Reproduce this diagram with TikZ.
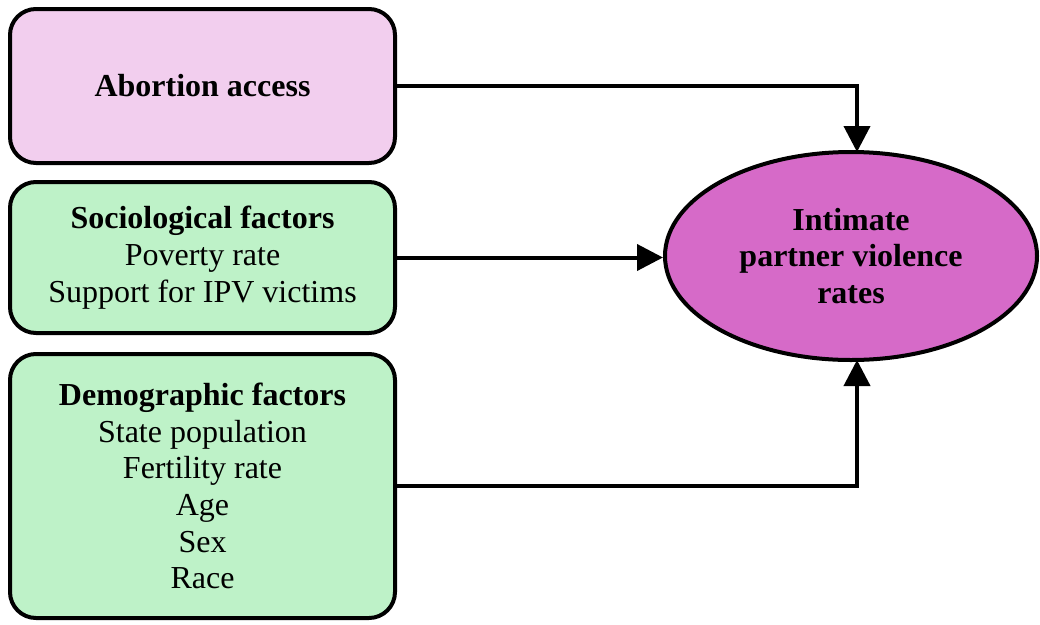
\documentclass[tikz,border=0pt]{standalone}
\usepackage{fontspec}
\setmainfont{Liberation Serif}
\usetikzlibrary{shapes.geometric,arrows.meta}
\definecolor{pinkbox}{RGB}{242,206,238}
\definecolor{greenbox}{RGB}{190,242,200}
\definecolor{magentaell}{RGB}{214,106,200}
\tikzset{
  box/.style={draw=black, line width=4pt, rounded corners=26pt, align=center,
    font=\fontsize{32}{36.7}\selectfont, inner sep=0pt},
  ell/.style={draw=black, line width=4pt, ellipse, fill=magentaell, align=center,
    font=\fontsize{32}{36.7}\selectfont\bfseries, inner sep=0pt},
  arr/.style={line width=4pt, -{Triangle[length=26pt,width=26pt]}}
}
\begin{document}
\begin{tikzpicture}[x=1pt,y=-1pt]
\useasboundingbox (0,0) rectangle (1040,624);
\node[box, fill=pinkbox, minimum width=385pt, minimum height=154pt] (b1) at (202.5,86) {\textbf{Abortion access}};
\node[box, fill=greenbox, minimum width=385pt, minimum height=151pt] (b2) at (202.5,257.5) {\textbf{Sociological factors}\\Poverty rate\\Support for IPV victims};
\node[box, fill=greenbox, minimum width=385pt, minimum height=264pt] (b3) at (202.5,486) {\textbf{Demographic factors}\\State population\\Fertility rate\\Age\\Sex\\Race};
\node[ell, minimum width=372pt, minimum height=208pt] (e) at (851,256) {Intimate\\partner violence\\rates};
\coordinate (t1) at (857,152);
\coordinate (t3) at (857,360);
\draw[arr] (b1.east) -| (t1);
\draw[arr] (b2.east) -- (b2.east -| e.west);
\draw[arr] (b3.east) -| (t3);
\end{tikzpicture}
\end{document}
